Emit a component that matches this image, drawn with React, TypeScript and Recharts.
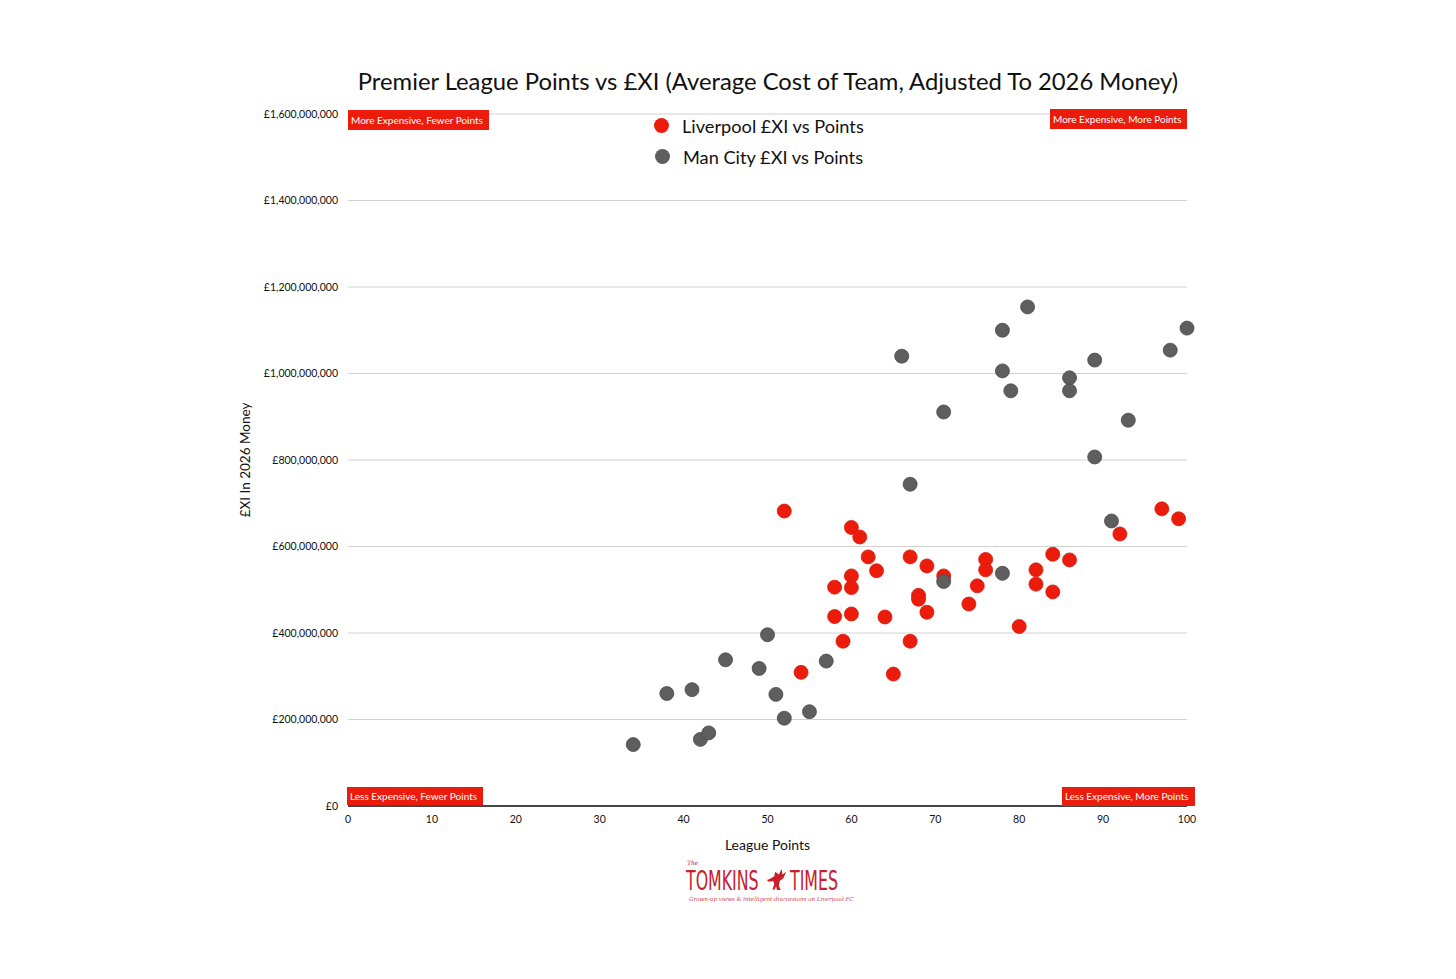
import React from "react";
import {
  ScatterChart,
  Scatter,
  XAxis,
  YAxis,
  CartesianGrid,
  ZAxis,
} from "recharts";

const liverpoolPoints = [52, 54, 58, 58, 59, 60, 60, 60, 60, 61, 62, 63, 64, 65, 67, 67, 68, 68, 69, 69, 71, 74, 75, 76, 76, 80, 82, 82, 84, 84, 86, 92, 97, 99];
const liverpoolCostM = [682, 309, 506, 438, 381, 644, 532, 505, 444, 622, 576, 544, 437, 305, 576, 381, 487, 478, 555, 448, 532, 467, 509, 570, 546, 415, 546, 513, 582, 495, 569, 629, 687, 664];

const cityPoints = [34, 38, 41, 42, 43, 45, 49, 50, 51, 52, 55, 57, 66, 67, 71, 71, 78, 78, 78, 79, 81, 86, 86, 89, 89, 91, 93, 98, 100];
const cityCostM = [142, 260, 269, 154, 169, 338, 318, 396, 258, 203, 218, 335, 1040, 744, 911, 519, 1100, 1006, 538, 960, 1154, 990, 960, 807, 1031, 659, 892, 1054, 1105];

const xTicks = [0, 10, 20, 30, 40, 50, 60, 70, 80, 90, 100];
const yTicks = [0, 200000000, 400000000, 600000000, 800000000, 1000000000, 1200000000, 1400000000, 1600000000];

const seriesNames = ["Liverpool £XI vs Points", "Man City £XI vs Points"];
const cornerLabels = [
  "More Expensive, Fewer Points",
  "More Expensive, More Points",
  "Less Expensive, Fewer Points",
  "Less Expensive, More Points",
];

const RED = "#ec1c0c";
const GREY = "#5e5e5e";
const FONT = "Lato, 'Open Sans', sans-serif";

const liverpoolData = liverpoolPoints.map((p, i) => ({ x: p, y: liverpoolCostM[i] * 1e6 }));
const cityData = cityPoints.map((p, i) => ({ x: p, y: cityCostM[i] * 1e6 }));

const fmtMoney = (v: number) => "£" + v.toLocaleString("en-GB");

const dot = (fill: string, stroke: string) => (props: any) => (
  <circle cx={props.cx} cy={props.cy} r={7} fill={fill} stroke={stroke} strokeWidth={0.8} />
);

const boxStyle = (left: number, top: number, w: number, h: number): React.CSSProperties => ({
  position: "absolute",
  left,
  top,
  width: w,
  height: h,
  background: RED,
  color: "#fff",
  fontFamily: FONT,
  fontSize: 10,
  lineHeight: h + "px",
  paddingLeft: 3,
  boxSizing: "border-box",
  whiteSpace: "nowrap",
  overflow: "hidden",
});

const logoWord: React.CSSProperties = {
  position: "absolute",
  top: 5,
  fontSize: 27,
  lineHeight: "27px",
  fontFamily: "'Liberation Sans Narrow', 'DejaVu Sans Condensed', sans-serif",
  whiteSpace: "nowrap",
  transformOrigin: "left top",
  transform: "scaleX(0.65)",
};

export default function App() {
  return (
    <div style={{ position: "absolute", left: 0, top: 0, width: 1456, height: 979, background: "#fff" }}>
      <div
        style={{
          position: "absolute",
          left: 0,
          width: 1456,
          top: 67,
          textAlign: "center",
          fontFamily: FONT,
          fontSize: 23.8,
          color: "#111",
          paddingLeft: 80,
          boxSizing: "border-box",
          whiteSpace: "nowrap",
        }}
      >
        Premier League Points vs £XI (Average Cost of Team, Adjusted To 2026 Money)
      </div>
      <ScatterChart
        width={1456}
        height={979}
        margin={{ top: 114, right: 269, bottom: 143, left: 258 }}
        style={{ position: "absolute", left: 0, top: 0 }}
      >
        <CartesianGrid horizontal vertical={false} stroke="#d2d2d2" strokeWidth={1} />
        <XAxis
          type="number"
          dataKey="x"
          domain={[0, 100]}
          ticks={xTicks}
          height={30}
          axisLine={{ stroke: "#111", strokeWidth: 1.5 }}
          tickLine={false}
          tickMargin={4}
          tick={{ fill: "#111", fontSize: 10.5, fontFamily: FONT }}
          label={{
            value: "League Points",
            position: "insideBottom",
            offset: -14,
            style: { fill: "#111", fontSize: 14, fontFamily: FONT },
          }}
        />
        <YAxis
          type="number"
          dataKey="y"
          domain={[0, 1600000000]}
          ticks={yTicks}
          width={90}
          axisLine={false}
          tickLine={false}
          tickMargin={4}
          tickFormatter={fmtMoney}
          tick={{ fill: "#111", fontSize: 10.5, fontFamily: FONT }}
          label={{
            value: "£XI In 2026 Money",
            angle: -90,
            position: "insideLeft",
            offset: -13,
            style: { fill: "#111", fontSize: 13.5, fontFamily: FONT, textAnchor: "middle" },
          }}
        />
        <ZAxis range={[154, 154]} />
        <Scatter
          name={seriesNames[0]}
          data={liverpoolData}
          fill={RED}
          shape={dot(RED, "#d8190b")}
          isAnimationActive={false}
        />
        <Scatter
          name={seriesNames[1]}
          data={cityData}
          fill={GREY}
          shape={dot(GREY, "#4a4a4a")}
          isAnimationActive={false}
        />
      </ScatterChart>

      <div style={{ position: "absolute", left: 654, top: 110, fontFamily: FONT, fontSize: 18.2, color: "#111" }}>
        {seriesNames.map((n, i) => (
          <div key={n} style={{ display: "flex", alignItems: "center", height: 31 }}>
            <span
              style={{
                display: "inline-block",
                width: 15,
                height: 15,
                borderRadius: 8,
                background: i === 0 ? RED : GREY,
                marginRight: 13,
                marginLeft: i === 0 ? 0 : 1,
              }}
            />
            <span>{n}</span>
          </div>
        ))}
      </div>

      <div style={boxStyle(348, 110, 141, 20)}>{cornerLabels[0]}</div>
      <div style={boxStyle(1050, 109, 137, 20)}>{cornerLabels[1]}</div>
      <div style={boxStyle(347, 787, 136, 18)}>{cornerLabels[2]}</div>
      <div style={boxStyle(1062, 787, 133, 19)}>{cornerLabels[3]}</div>

      <div style={{ position: "absolute", left: 686, top: 862, width: 170, height: 45, color: "#c8202a" }}>
        <div style={{ position: "absolute", left: 1, top: -2, fontSize: 6, lineHeight: "6px", fontStyle: "italic", fontFamily: "'DejaVu Serif', serif" }}>The</div>
        <div style={{ ...logoWord, left: 0 }}>TOMKINS</div>
        <svg style={{ position: "absolute", left: 80, top: 5 }} width="22" height="26" viewBox="0 0 24 26">
          <path
            d="M4 12 L9 9 L10 4 L14 7 L17 1 L18 7 L22 4 L19 11 L15 14 L14 19 L16 24 L12 24 L11 20 L9 24 L7 23 L9 18 L8 14 L3 15 L1 13 Z"
            fill="#c8202a"
          />
        </svg>
        <div style={{ ...logoWord, left: 104 }}>TIMES</div>
        <div
          style={{
            position: "absolute",
            left: 3,
            top: 34,
            fontSize: 5.6,
            fontStyle: "italic",
            fontFamily: "'DejaVu Serif', serif",
            whiteSpace: "nowrap",
            color: "#c8454c",
          }}
        >
          Grown-up views &amp; intelligent discussions on Liverpool FC
        </div>
      </div>
    </div>
  );
}
